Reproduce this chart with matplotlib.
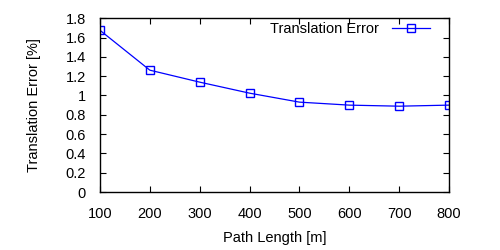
import numpy as np
import matplotlib
matplotlib.use('Agg')
import matplotlib.pyplot as plt

plt.rcParams['font.family'] = ['Liberation Sans', 'DejaVu Sans']

# path length [m] and translation error [%]
path_length = [100, 200, 300, 400, 500, 600, 700, 800]
trans_error = [1.675, 1.262, 1.138, 1.024, 0.931, 0.900, 0.889, 0.900]

fig = plt.figure(figsize=(5, 2.5), dpi=100)
ax = fig.add_axes([0.2, 0.232, 0.698, 0.695])

ax.plot(path_length, trans_error, '-', color='#0000ff', lw=0.9,
        marker='s', ms=6, mfc='none', mec='#0000ff', mew=1.0,
        label='Translation Error')

ax.set_xlim(100, 800)
ax.set_ylim(0, 1.8)
ax.set_xticks(np.arange(100, 801, 100))
ax.set_yticks(np.arange(0, 1.81, 0.2))
ax.set_yticklabels(['0', '0.2', '0.4', '0.6', '0.8', '1', '1.2', '1.4', '1.6', '1.8'])
ax.tick_params(direction='in', top=True, right=True, length=4, width=0.8,
               labelsize=10.5)
ax.tick_params(axis='y', pad=10)
ax.tick_params(axis='x', pad=11)
for s in ax.spines.values():
    s.set_linewidth(1.0)

ax.set_xlabel('Path Length [m]', fontsize=10.5, labelpad=7)
ax.set_ylabel('Translation Error [%]', fontsize=10.5, labelpad=18)

ax.legend(loc='center right', bbox_to_anchor=(0.946, 0.937), frameon=False,
          markerfirst=False, fontsize=10.5, handlelength=2.6,
          borderaxespad=0, borderpad=0, handletextpad=0.9)

fig.savefig('out.png', dpi=100)
